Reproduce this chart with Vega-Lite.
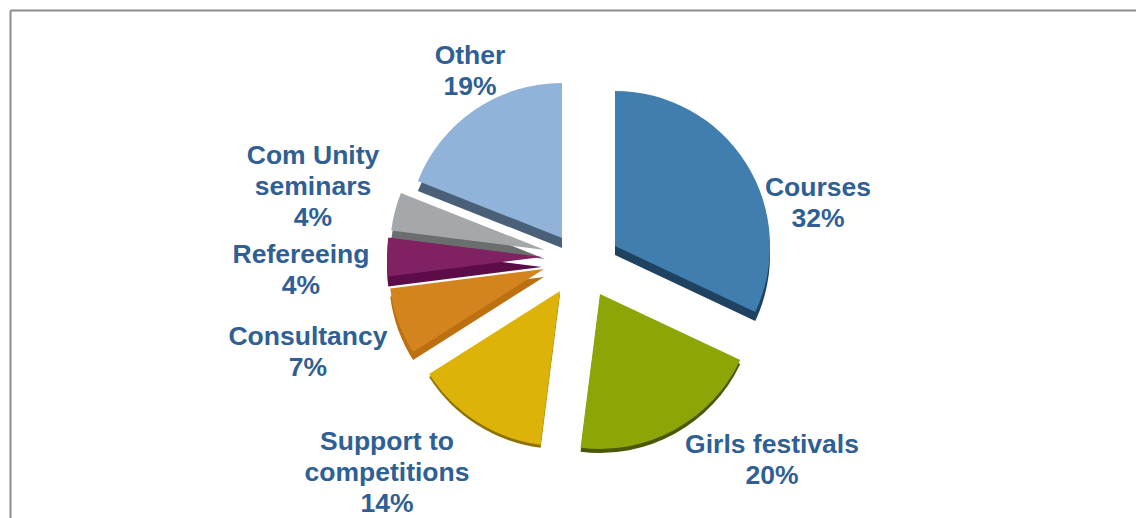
{
"$schema":"https://vega.github.io/schema/vega-lite/v6.json",
"width":1136,"height":518,"padding":0,
"autosize":{"type":"none"},
"background":"white",
"view":{"stroke":null},
"datasets":{
"slices":[
{"order":1,"name":"Courses","share":32,"cx":615,"cy":246,"depthY":255,"fill":"#3F7EAF","dark":"#1E4260"},
{"order":2,"name":"Girls festivals","share":20,"cx":600,"cy":294,"depthY":298,"fill":"#8DA506","dark":"#4A5703"},
{"order":3,"name":"Support to competitions","share":14,"cx":560,"cy":291,"depthY":294,"fill":"#DDB30A","dark":"#8F7204"},
{"order":4,"name":"Consultancy","share":7,"cx":544,"cy":269,"depthY":277,"fill":"#D3841E","dark":"#BC7010"},
{"order":5,"name":"Refereeing","share":4,"cx":542,"cy":257,"depthY":267,"fill":"#802262","dark":"#5C0D47"},
{"order":6,"name":"Com Unity seminars","share":4,"cx":545,"cy":250,"depthY":259,"fill":"#A5A8AA","dark":"#6B6E6E"},
{"order":7,"name":"Other","share":19,"cx":562,"cy":238,"depthY":248,"fill":"#91B3D9","dark":"#4A6078"}
],
"labels":[
{"label":"Other\n19%","lx":470,"ly":56},
{"label":"Courses\n32%","lx":818,"ly":188},
{"label":"Girls festivals\n20%","lx":772,"ly":445},
{"label":"Support to\ncompetitions\n14%","lx":387,"ly":442},
{"label":"Consultancy\n7%","lx":308,"ly":337},
{"label":"Refereeing\n4%","lx":301,"ly":255},
{"label":"Com Unity\nseminars\n4%","lx":313,"ly":156}
],
"frame":[
{"x1":10.5,"x2":10.5,"y1":10.5,"y2":518},
{"x1":10.5,"x2":1136,"y1":10.5,"y2":10.5}
]
},
"layer":[
{"data":{"name":"frame"},
"mark":{"type":"rule","stroke":"#8C8C8C","strokeWidth":2},
"encoding":{
"x":{"field":"x1","type":"quantitative","scale":{"domain":[0,1136],"nice":false,"zero":false},"axis":null},
"x2":{"field":"x2"},
"y":{"field":"y1","type":"quantitative","scale":{"domain":[0,518],"reverse":true,"nice":false,"zero":false},"axis":null},
"y2":{"field":"y2"}
}},
{"data":{"name":"slices"},
"transform":[{"stack":"share","sort":[{"field":"order"}],"as":["t0","t1"]}],
"mark":{"type":"arc","radius":155},
"encoding":{
"x":{"field":"cx","type":"quantitative"},
"y":{"field":"depthY","type":"quantitative"},
"theta":{"field":"t0","type":"quantitative","scale":{"domain":[0,100]}},
"theta2":{"field":"t1"},
"fill":{"field":"dark","type":"nominal","scale":null}
}},
{"data":{"name":"slices"},
"transform":[{"stack":"share","sort":[{"field":"order"}],"as":["t0","t1"]}],
"mark":{"type":"arc","radius":155},
"encoding":{
"x":{"field":"cx","type":"quantitative"},
"y":{"field":"cy","type":"quantitative"},
"theta":{"field":"t0","type":"quantitative","scale":{"domain":[0,100]}},
"theta2":{"field":"t1"},
"fill":{"field":"fill","type":"nominal","scale":null}
}},
{"data":{"name":"labels"},
"mark":{"type":"text","font":"Liberation Sans","fontWeight":"bold","fontSize":26.5,"lineHeight":31,"lineBreak":"\n","align":"center","baseline":"middle","color":"#2F5F94"},
"encoding":{
"x":{"field":"lx","type":"quantitative"},
"y":{"field":"ly","type":"quantitative"},
"text":{"field":"label","type":"nominal"}
}}
],
"resolve":{"scale":{"theta":"shared"}}
}
